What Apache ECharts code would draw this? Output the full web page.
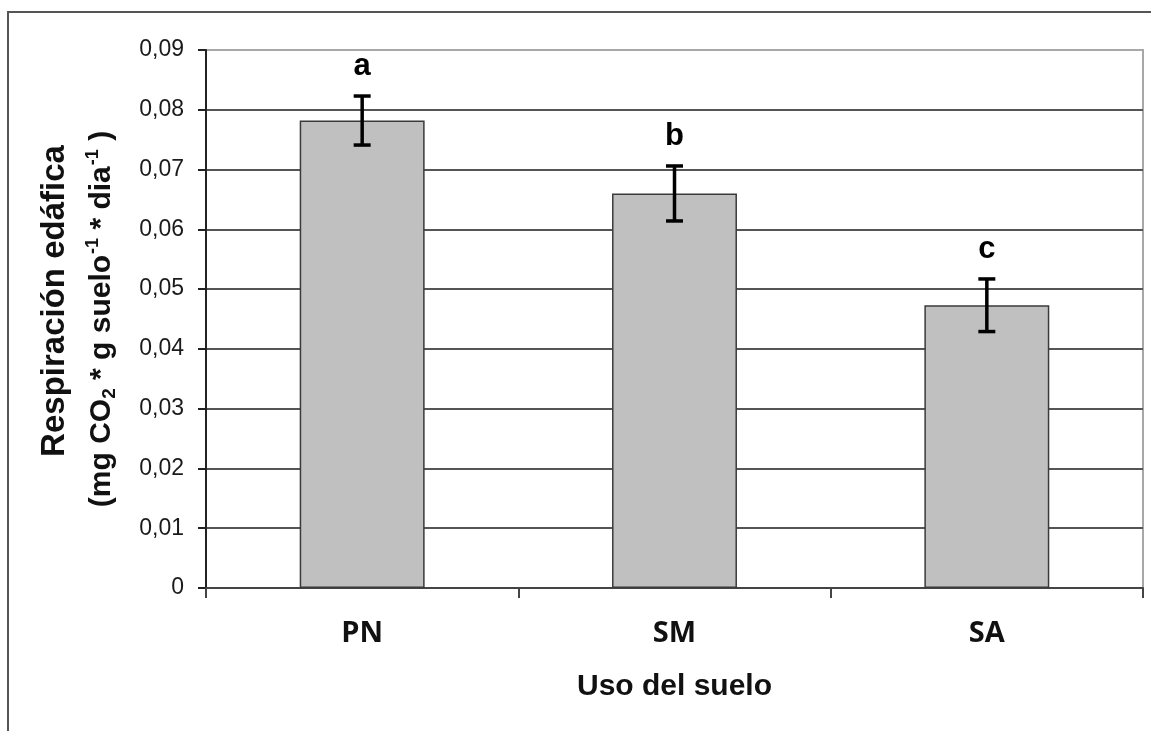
<!DOCTYPE html>
<html>
<head>
<meta charset="utf-8">
<title>Respiración edáfica por uso del suelo</title>
<script src="https://cdn.jsdelivr.net/npm/echarts@6/dist/echarts.min.js"></script>
<style>
  html, body { margin: 0; padding: 0; background: #ffffff; }
  #chart { width: 1151px; height: 731px; }
</style>
</head>
<body>
<div id="chart"></div>
<script>
// Soil respiration (mean ± error) for each land use, with significance letters
const categories = ['PN', 'SM', 'SA'];
const respiration = [0.0782, 0.0660, 0.0473];
const errors = [0.0041, 0.0046, 0.0044];
const letters = ['a', 'b', 'c'];
const yTicks = [0, 0.01, 0.02, 0.03, 0.04, 0.05, 0.06, 0.07, 0.08, 0.09];

const ARIAL = '"Liberation Sans", Arial, sans-serif';

const fmtTick = v => (v === 0 ? '0' : v.toFixed(2).replace('.', ','));

// gridline colours: dark lines, lighter top edge of the plot frame
const gridColors = yTicks.map((v, i) => (i === yTicks.length - 1 ? '#a8a8a8' : '#555555'));

const errData = categories.map((c, i) => [i, respiration[i], errors[i]]);

const chart = echarts.init(document.getElementById('chart'), null, { renderer: 'canvas' });

chart.setOption({
  animation: false,
  backgroundColor: '#ffffff',
  graphic: [{
    type: 'rect',
    shape: { x: 8, y: 12, width: 1200, height: 800 },
    style: { fill: 'none', stroke: '#555555', lineWidth: 2 },
    silent: true
  }],
  grid: {
    left: 206, right: 8, top: 50, bottom: 143,
    show: true, borderColor: '#a8a8a8', borderWidth: 2, backgroundColor: 'transparent'
  },
  xAxis: {
    type: 'category',
    data: categories,
    name: 'Uso del suelo',
    nameLocation: 'middle',
    nameGap: 84,
    nameTextStyle: { fontFamily: ARIAL, fontWeight: 'bold', fontSize: 30, color: '#111111' },
    axisLine: { lineStyle: { color: '#444444', width: 2 } },
    axisTick: { show: true, length: 10, lineStyle: { color: '#444444', width: 2 } },
    axisLabel: { margin: 31, fontFamily: '"Open Sans", "Noto Sans", sans-serif', fontWeight: 'bold', fontSize: 29, color: '#111111' },
    splitLine: { show: false }
  },
  yAxis: {
    type: 'value',
    min: 0, max: 0.09, interval: 0.01,
    name: '{h|Respiración edáfica}\n{t|(mg CO}{sub|2}{t| * g suelo}{sup|-1}{t| * dia}{sup|-1}{t| )}',
    nameLocation: 'middle',
    nameRotate: 90,
    nameGap: 79,
    nameTextStyle: {
      fontFamily: ARIAL, fontWeight: 'bold', fontSize: 30, color: '#111111',
      rich: {
        h: { fontFamily: ARIAL, fontWeight: 'bold', fontSize: 33, lineHeight: 44, padding: [0, 0, 0, 36], color: '#111111' },
        t: { fontFamily: ARIAL, fontWeight: 'bold', fontSize: 30, lineHeight: 50, color: '#111111' },
        sup: { fontFamily: ARIAL, fontWeight: 'bold', fontSize: 18, lineHeight: 50, verticalAlign: 'top', padding: [7, 0, 0, 1], color: '#111111' },
        sub: { fontFamily: ARIAL, fontWeight: 'bold', fontSize: 19, lineHeight: 50, verticalAlign: 'bottom', padding: [0, 0, 8, 0], color: '#111111' }
      }
    },
    axisLine: { show: true, lineStyle: { color: '#222222', width: 2 } },
    axisTick: { show: true, length: 8, lineStyle: { color: '#222222', width: 2 } },
    axisLabel: { margin: 22, fontFamily: ARIAL, fontSize: 23, color: '#1a1a1a', formatter: fmtTick },
    splitLine: { show: true, lineStyle: { color: gridColors, width: 2 } }
  },
  series: [
    {
      type: 'bar',
      data: respiration,
      barWidth: '40%',
      itemStyle: { color: '#c0c0c0', borderColor: '#3a3a3a', borderWidth: 1.5 },
      z: 2
    },
    {
      type: 'custom',
      data: errData,
      z: 3,
      renderItem: (params, api) => {
        const x = api.value(0);
        const v = api.value(1);
        const e = api.value(2);
        const top = api.coord([x, v + e]);
        const bot = api.coord([x, v - e]);
        const half = 8.5;
        const style = { stroke: '#000000', lineWidth: 3.5 };
        return {
          type: 'group',
          children: [
            { type: 'line', shape: { x1: top[0], y1: top[1], x2: bot[0], y2: bot[1] }, style },
            { type: 'line', shape: { x1: top[0] - half, y1: top[1], x2: top[0] + half, y2: top[1] }, style },
            { type: 'line', shape: { x1: bot[0] - half, y1: bot[1], x2: bot[0] + half, y2: bot[1] }, style },
            {
              type: 'text',
              style: {
                x: top[0], y: top[1] - 14,
                text: letters[params.dataIndex],
                align: 'center', verticalAlign: 'bottom',
                fontFamily: ARIAL, fontWeight: 'bold', fontSize: 31, fill: '#000000'
              }
            }
          ]
        };
      }
    }
  ]
});
</script>
</body>
</html>
